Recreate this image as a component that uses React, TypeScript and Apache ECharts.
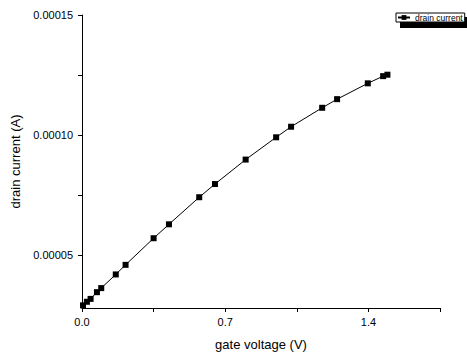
import React, { useEffect, useRef } from "react";
import * as echarts from "echarts";

const gateVoltage = [0.005, 0.024, 0.042, 0.073, 0.094, 0.165, 0.213, 0.35, 0.425, 0.573, 0.65, 0.8, 0.949, 1.022, 1.174, 1.247, 1.397, 1.472, 1.493];
const drainCurrent = [0.0000289, 0.0000304, 0.0000316, 0.0000344, 0.0000361, 0.0000418, 0.0000458, 0.0000569, 0.0000627, 0.000074, 0.0000795, 0.0000897, 0.000099, 0.0001034, 0.0001113, 0.0001149, 0.0001215, 0.0001245, 0.0001251];
const yLabelValues = [0.00005, 0.0001, 0.00015];
const yTickValues = [0.00005, 0.000075, 0.0001, 0.000125, 0.00015];
const seriesName = "drain current";

const FONT = "'Liberation Sans', Arial, sans-serif";

export default function App() {
  const ref = useRef<HTMLDivElement>(null);
  useEffect(() => {
    if (!ref.current) return;
    const chart = echarts.init(ref.current, null, { renderer: "svg" });
    const data = gateVoltage.map((x, i) => [x, drainCurrent[i]]);
    chart.setOption({
      animation: false,
      backgroundColor: "#fff",
      textStyle: { fontFamily: FONT },
      grid: { left: 82, right: 27, top: 15, bottom: 45 },
      xAxis: {
        type: "value",
        min: 0,
        max: 1.75,
        interval: 0.35,
        name: "gate voltage (V)",
        nameLocation: "middle",
        nameGap: 30,
        nameTextStyle: { fontSize: 13, color: "#000", fontFamily: FONT },
        axisLine: { show: true, onZero: false, lineStyle: { color: "#000", width: 1 } },
        axisTick: { show: true, inside: false, length: 4, lineStyle: { color: "#000" } },
        axisLabel: {
          fontSize: 11,
          color: "#000",
          margin: 8,
          fontFamily: FONT,
          formatter: (v: number) => {
            const r = Math.round(v / 0.35);
            return r % 2 === 0 && r < 5 ? (r * 0.35).toFixed(1) : "";
          },
        },
        splitLine: { show: false },
      },
      yAxis: {
        type: "value",
        min: 0.0000278,
        max: 0.00015,
        name: "drain current (A)",
        nameLocation: "middle",
        nameGap: 57,
        nameTextStyle: { fontSize: 13, color: "#000", fontFamily: FONT },
        axisLine: { show: true, onZero: false, lineStyle: { color: "#000", width: 1 } },
        axisTick: { show: true, inside: false, length: 4, lineStyle: { color: "#000" }, customValues: yTickValues },
        axisLabel: {
          fontSize: 11,
          color: "#000",
          margin: 9,
          fontFamily: FONT,
          customValues: yLabelValues,
          formatter: (v: number) => v.toFixed(5),
        },
        splitLine: { show: false },
      },
      legend: {
        show: true,
        left: 396,
        top: 13,
        padding: [0, 2, 0, 1],
        itemWidth: 12,
        itemHeight: 6,
        itemGap: 0,
        borderColor: "#000",
        borderWidth: 1,
        borderRadius: 0,
        backgroundColor: "#fff",
        textStyle: { fontSize: 8.5, color: "#000", fontFamily: FONT },
        data: [seriesName],
      },
      graphic: [
        {
          type: "rect",
          left: 400,
          top: 17,
          z: 0,
          shape: { width: 70, height: 11 },
          style: { fill: "#000" },
        },
      ],
      series: [
        {
          name: seriesName,
          type: "line",
          data,
          symbol: "rect",
          symbolSize: 6,
          showSymbol: true,
          lineStyle: { color: "#000", width: 1 },
          itemStyle: { color: "#000" },
        },
      ],
    });
    return () => chart.dispose();
  }, []);
  return <div ref={ref} style={{ position: "fixed", left: 0, top: 0, width: 467, height: 356 }} />;
}
